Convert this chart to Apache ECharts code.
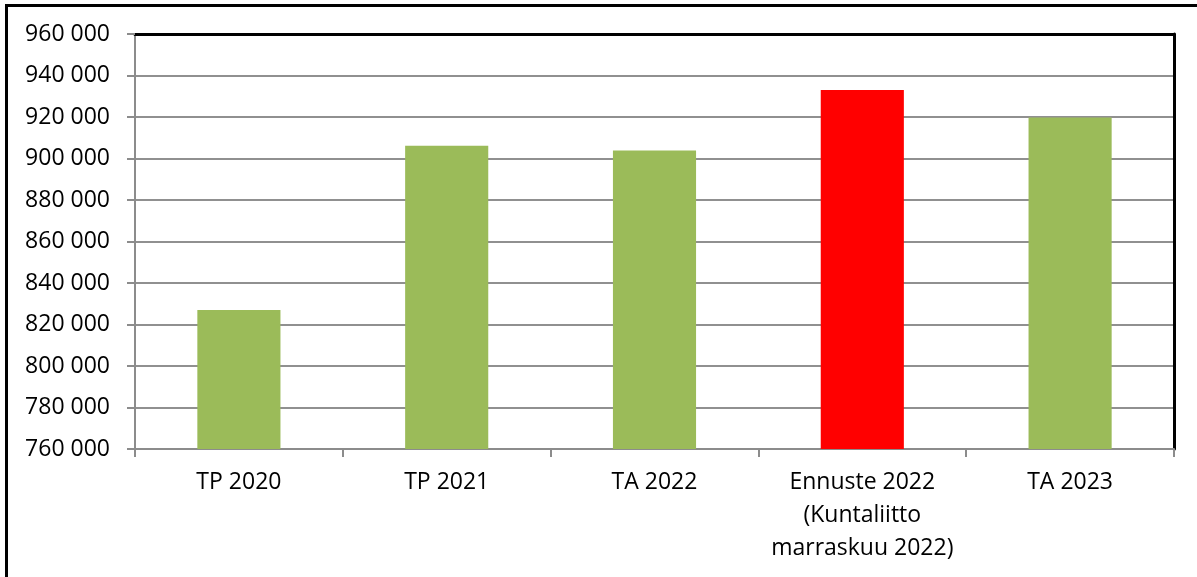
<!DOCTYPE html>
<html>
<head>
<meta charset="utf-8">
<script src="https://cdn.jsdelivr.net/npm/echarts@6/dist/echarts.min.js"></script>
<style>
html, body {
    margin: 0;
    padding: 0;
    background: #fff;
}
.frame {
    position: absolute;
    left: 5px;
    top: 4px;
    width: 1200px;
    height: 600px;
    border-top: 3px solid #000;
    border-left: 3px solid #000;
}
#chart {
    position: absolute;
    left: 0;
    top: 0;
    width: 1197px;
    height: 577px;
}
</style>
</head>
<body>
<div class="frame"></div>
<div id="chart"></div>
<script>
var categories = ["TP 2020", "TP 2021", "TA 2022", "Ennuste 2022\n(Kuntaliitto\nmarraskuu 2022)", "TA 2023"];
var values = [827000, 906200, 903800, 933000, 919800];
var barColors = ["#9BBB59", "#9BBB59", "#9BBB59", "#FF0000", "#9BBB59"];

var myChart = echarts.init(document.getElementById("chart"));

var option = {
    animation: false,
    grid: {
        left: 135,
        right: 23,
        top: 34,
        bottom: 128
    },
    xAxis: [
        {
            type: "category",
            data: categories,
            axisLine: { lineStyle: { color: "#8c8c8c", width: 2 } },
            axisTick: { show: true, length: 8, lineStyle: { color: "#8c8c8c", width: 2 } },
            axisLabel: {
                color: "#000",
                fontFamily: "Open Sans",
                fontSize: 23,
                lineHeight: 33,
                margin: 17,
                interval: 0
            }
        },
        {
            // black frame line on top of the plot
            type: "category",
            position: "top",
            data: categories,
            axisLine: { lineStyle: { color: "#000", width: 3 } },
            axisTick: { show: false },
            axisLabel: { show: false }
        }
    ],
    yAxis: [
        {
            type: "value",
            min: 760000,
            max: 960000,
            interval: 20000,
            axisLine: { show: true, lineStyle: { color: "#8c8c8c", width: 2 } },
            axisTick: { show: true, length: 8, lineStyle: { color: "#8c8c8c", width: 2 } },
            splitLine: { showMaxLine: false, lineStyle: { color: "#909090", width: 2 } },
            axisLabel: {
                color: "#000",
                fontFamily: "Open Sans",
                fontSize: 23,
                margin: 25,
                formatter: function (v) {
                    return String(v).replace(/\B(?=(\d{3})+(?!\d))/g, " ");
                }
            }
        },
        {
            // black frame line on the right
            type: "value",
            position: "right",
            min: 760000,
            max: 960000,
            interval: 20000,
            axisLine: { show: true, lineStyle: { color: "#000", width: 3 } },
            axisTick: { show: false },
            axisLabel: { show: false },
            splitLine: { show: false }
        }
    ],
    series: [
        {
            type: "bar",
            barWidth: "40%",
            data: values.map(function (v, i) {
                return { value: v, itemStyle: { color: barColors[i] } };
            })
        }
    ]
};

myChart.setOption(option);
</script>
</body>
</html>
